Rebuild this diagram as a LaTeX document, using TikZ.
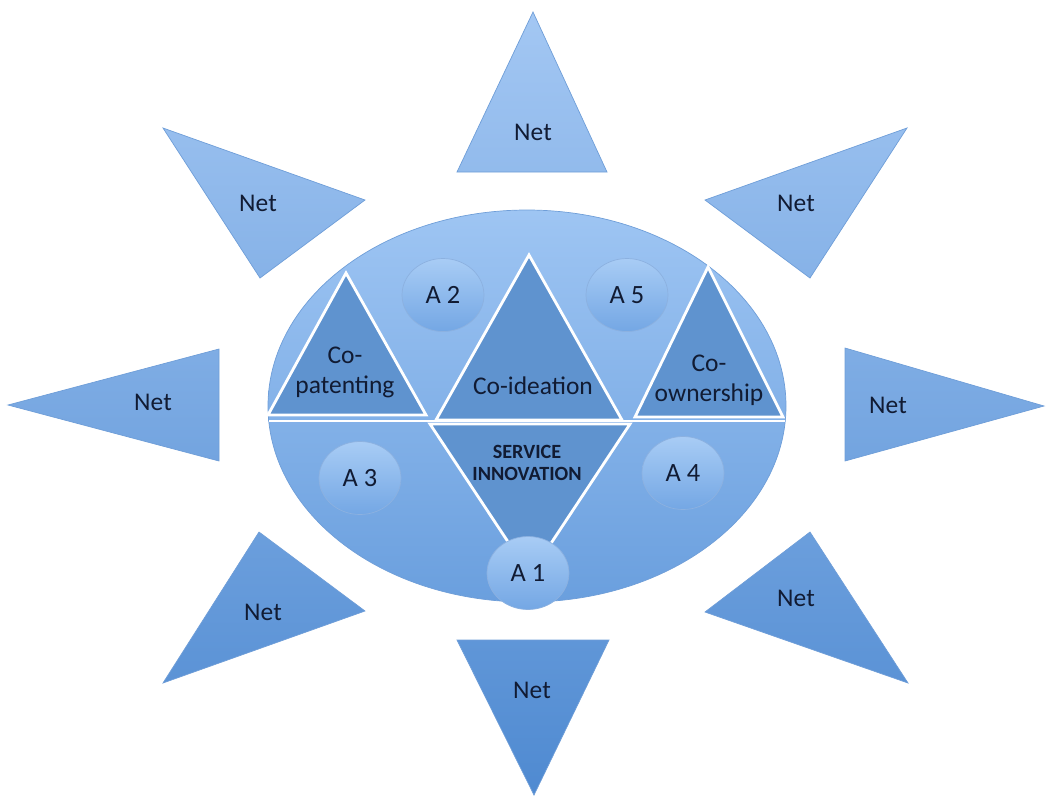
\documentclass[tikz,border=0pt]{standalone}
\usepackage{fontspec}
\setmainfont{Carlito}
\usetikzlibrary{shapes.geometric}

\definecolor{netTop}{HTML}{A3C7F3}
\definecolor{netBot}{HTML}{4F8AD1}
\definecolor{netEdge}{HTML}{6F9ED8}
\definecolor{discTop}{HTML}{9EC5F3}
\definecolor{discBot}{HTML}{6A9FDE}
\definecolor{coFill}{HTML}{5F93CF}
\definecolor{agTop}{HTML}{A8CCF5}
\definecolor{agBot}{HTML}{74A7E4}
\definecolor{ink}{HTML}{111B33}

\begin{document}
\begin{tikzpicture}[x=0.02cm,y=-0.02cm,
    net/.style={top color=netTop,bottom color=netBot,draw=netEdge,line width=0.4pt},
    disc/.style={top color=discTop,bottom color=discBot,draw=netEdge,line width=0.4pt},
    co/.style={fill=coFill,draw=white,line width=1.6pt,line join=miter},
    agent/.style={ellipse,top color=agTop,bottom color=agBot,draw=netEdge!80,line width=0.4pt,
                  minimum width=1.64cm,minimum height=1.46cm,inner sep=0pt,
                  text=ink,font=\fontsize{15}{17}\selectfont},
    lbl/.style={text=ink,font=\fontsize{14.5}{17}\selectfont,align=center,inner sep=0pt}]

  \useasboundingbox (0,0) rectangle (1046,796);

  % the eight outer triangles, shaded as one path
  \shade[net]
    \foreach \ax/\ay/\bx/\by/\cx/\cy in {%
        533/12/457/172/607/172,     163/128/365/200/260/278,
        907/128/705/200/810/278,    8/405/219/349/219/461,
        1044/406/845/348/845/461,   163/683/259/532/365/611,
        908/683/810/532/705/612,    457/640/609/640/534/795} {
      (\ax,\ay) -- (\bx,\by) -- (\cx,\cy) -- cycle
    };

  \foreach \i/\x/\y in {1/533/132, 2/258/203, 3/796/203, 4/153/402,
                        5/888/405, 6/263/612, 7/796/598, 8/532/690} {
    \node[lbl] (net\i) at (\x,\y) {Net};
  }

  % the disc
  \shade[disc] (527,406) ellipse [x radius=259, y radius=196];

  \draw[white,line width=1.6pt] (269,421) -- (785,421);

  \draw[co] (346,273) -- (426,415) -- (268,415) -- cycle;
  \draw[co] (529,255) -- (622,420) -- (436,420) -- cycle;
  \draw[co] (708,267) -- (783,417) -- (635,417) -- cycle;
  \draw[co] (430,424) -- (630,424) -- (530,575) -- cycle;

  \node[lbl] (copat) at (345,372) {Co-\\patenting};
  \node[lbl] (coid) at (533,386) {Co-ideation};
  \node[lbl] (coown) at (709,380) {Co-\\ownership};
  \node[lbl,font=\fontsize{11.5}{13}\selectfont\bfseries] (servinn) at (527,463)
       {SERVICE\\INNOVATION};

  \foreach \i/\x/\y in {1/528/573, 2/443/295, 3/360/478, 4/683/473, 5/627/295} {
    \node[agent] (a\i) at (\x,\y) {A \i};
  }

\end{tikzpicture}
\end{document}
